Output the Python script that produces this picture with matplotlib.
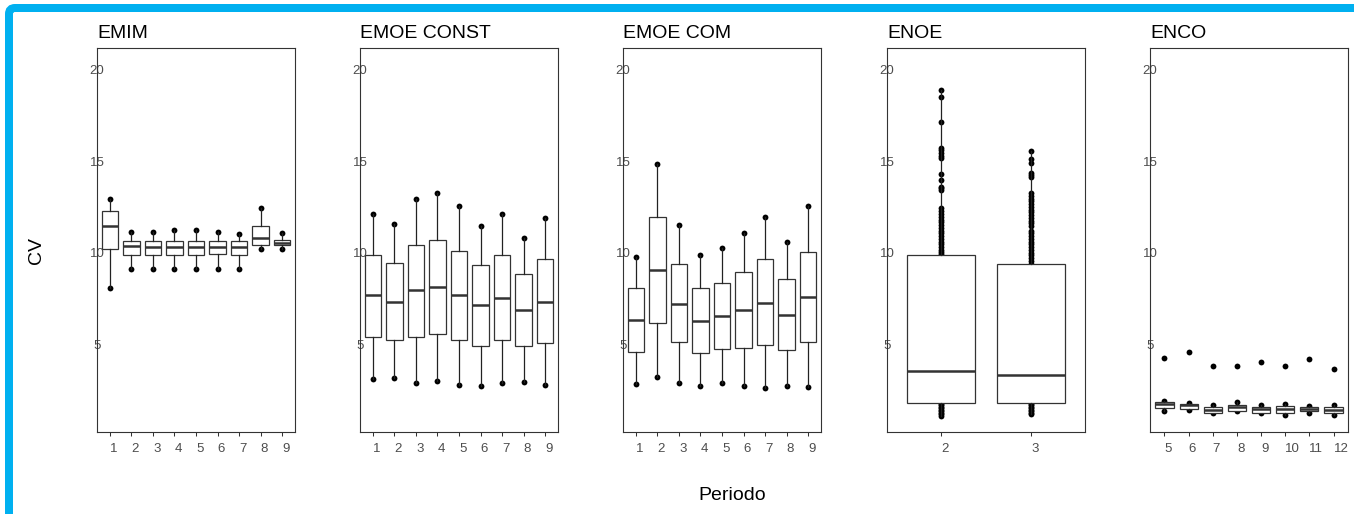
import matplotlib
matplotlib.use('Agg')
import matplotlib.pyplot as plt
from matplotlib.patches import FancyBboxPatch
from matplotlib.transforms import IdentityTransform

plt.rcParams['font.family'] = ['Liberation Sans', 'DejaVu Sans']

W, H = 1354, 514

# ---------------- data ----------------
panel_names = ['EMIM', 'EMOE CONST', 'EMOE COM', 'ENOE', 'ENCO']

emim_periods = [1, 2, 3, 4, 5, 6, 7, 8, 9]
emim_q1 = [10.19, 9.90, 9.90, 9.90, 9.90, 9.95, 9.90, 10.43, 10.43]
emim_med = [11.46, 10.36, 10.34, 10.30, 10.30, 10.34, 10.34, 10.83, 10.55]
emim_q3 = [12.26, 10.63, 10.63, 10.63, 10.63, 10.63, 10.63, 11.48, 10.70]
emim_lo = [8.06, 9.12, 9.12, 9.12, 9.12, 9.12, 9.12, 10.19, 10.19]
emim_hi = [12.94, 11.15, 11.15, 11.25, 11.25, 11.15, 11.03, 12.46, 11.10]

const_periods = [1, 2, 3, 4, 5, 6, 7, 8, 9]
const_q1 = [5.43, 5.23, 5.43, 5.57, 5.23, 4.90, 5.23, 4.90, 5.10]
const_med = [7.68, 7.33, 7.94, 8.15, 7.68, 7.16, 7.54, 6.88, 7.33]
const_q3 = [9.90, 9.45, 10.43, 10.70, 10.12, 9.32, 9.85, 8.85, 9.65]
const_lo = [3.12, 3.19, 2.92, 3.00, 2.79, 2.74, 2.92, 2.94, 2.79]
const_hi = [12.14, 11.57, 12.94, 13.28, 12.54, 11.48, 12.14, 10.83, 11.88]

com_periods = [1, 2, 3, 4, 5, 6, 7, 8, 9]
com_q1 = [4.59, 6.17, 5.12, 4.52, 4.75, 4.83, 4.95, 4.70, 5.12]
com_med = [6.35, 9.06, 7.21, 6.28, 6.55, 6.88, 7.28, 6.61, 7.61]
com_q3 = [8.06, 11.94, 9.37, 8.06, 8.37, 8.97, 9.65, 8.57, 10.03]
com_lo = [2.84, 3.24, 2.92, 2.74, 2.92, 2.74, 2.61, 2.74, 2.66]
com_hi = [9.79, 14.85, 11.52, 9.85, 10.25, 11.10, 11.94, 10.57, 12.54]

enoe_periods = [2, 3]
enoe_q1 = [1.81, 1.81]
enoe_med = [3.54, 3.32]
enoe_q3 = [9.90, 9.37]
enoe_lo = [1.12, 1.19]
enoe_hi = [18.88, 15.57]
enoe_points_2 = [1.12, 1.20, 1.28, 1.36, 1.44, 1.52, 1.60, 1.68, 1.76,
                 9.95, 10.05, 10.15, 10.30, 10.45, 10.60, 10.75, 10.90, 11.05,
                 11.20, 11.35, 11.50, 11.65, 11.80, 11.95, 12.10, 12.25, 12.43,
                 13.43, 13.55, 13.61, 13.97, 14.28, 15.17, 15.30, 15.45, 15.60,
                 15.71, 17.12, 18.48, 18.88]
enoe_points_3 = [1.19, 1.27, 1.35, 1.43, 1.51, 1.59, 1.67, 1.75,
                 9.40, 9.55, 9.70, 9.85, 10.00, 10.15, 10.30, 10.45, 10.60,
                 10.75, 10.90, 11.05, 11.18, 11.45, 11.60, 11.75, 11.90, 12.05,
                 12.20, 12.35, 12.50, 12.65, 12.80, 12.95, 13.10, 13.26,
                 14.15, 14.25, 14.37, 14.88, 15.10, 15.57]

enco_periods = [5, 6, 7, 8, 9, 10, 11, 12]
enco_q1 = [1.52, 1.46, 1.28, 1.39, 1.28, 1.28, 1.35, 1.23]
enco_med = [1.74, 1.68, 1.43, 1.57, 1.50, 1.50, 1.50, 1.43]
enco_q3 = [1.88, 1.75, 1.57, 1.68, 1.57, 1.65, 1.61, 1.61]
enco_lo = [1.37, 1.43, 1.25, 1.34, 1.25, 1.16, 1.28, 1.16]
enco_hi = [1.92, 1.78, 1.72, 1.83, 1.68, 1.75, 1.64, 1.72]
enco_out = [4.25, 4.57, 3.84, 3.84, 4.03, 3.84, 4.19, 3.66]

y_ticks = [5, 10, 15, 20]

panels = [
    (emim_periods, emim_q1, emim_med, emim_q3, emim_lo, emim_hi,
     [[lo, hi] for lo, hi in zip(emim_lo, emim_hi)]),
    (const_periods, const_q1, const_med, const_q3, const_lo, const_hi,
     [[lo, hi] for lo, hi in zip(const_lo, const_hi)]),
    (com_periods, com_q1, com_med, com_q3, com_lo, com_hi,
     [[lo, hi] for lo, hi in zip(com_lo, com_hi)]),
    (enoe_periods, enoe_q1, enoe_med, enoe_q3, enoe_lo, enoe_hi,
     [enoe_points_2, enoe_points_3]),
    (enco_periods, enco_q1, enco_med, enco_q3, enco_lo, enco_hi,
     [[lo, hi, o] for lo, hi, o in zip(enco_lo, enco_hi, enco_out)]),
]

# ---------------- figure ----------------
fig = plt.figure(figsize=(W / 100, H / 100), dpi=100)
fig.patch.set_facecolor('white')

lefts = [97, 360, 623, 887, 1150]
ax_w, ax_top, ax_bot = 198, 48, 432
dark = '#333333'
gray = '#4d4d4d'

for name, left, (per, q1, med, q3, lo, hi, pts) in zip(panel_names, lefts, panels):
    ax = fig.add_axes([left / W, (H - ax_bot) / H, ax_w / W, (ax_bot - ax_top) / H])
    stats = []
    for p, a, m, b, l, h in zip(per, q1, med, q3, lo, hi):
        stats.append(dict(q1=a, med=m, q3=b, whislo=l, whishi=h, fliers=[]))
    # points (drawn beneath the boxes)
    for p, vals in zip(per, pts):
        ax.plot([p] * len(vals), vals, 'o', color='black', markersize=4.2,
                markeredgewidth=0, zorder=2)
    ax.bxp(stats, positions=per, widths=0.75, patch_artist=True,
           showcaps=False, showfliers=False,
           boxprops=dict(facecolor='white', edgecolor=dark, linewidth=0.9),
           medianprops=dict(color=dark, linewidth=1.8),
           whiskerprops=dict(color='#222222', linewidth=0.9),
           zorder=3)
    ax.set_xlim(per[0] - 0.6, per[-1] + 0.6)
    ax.set_ylim(0.22, 21.17)
    ax.set_xticks(per)
    ax.set_xticklabels([str(p) for p in per])
    ax.set_yticks(y_ticks)
    ax.set_yticklabels([str(t) for t in y_ticks])
    ax.tick_params(axis='y', length=0, pad=0, labelsize=9.5, labelcolor=gray)
    ax.tick_params(axis='x', length=3, width=0.75, color=dark, pad=5,
                   labelsize=9.5, labelcolor=gray)
    for lab in ax.get_yticklabels():
        lab.set_horizontalalignment('center')
    for lab in ax.get_xticklabels():
        lab.set_horizontalalignment('left')
    for sp in ax.spines.values():
        sp.set_color(dark)
        sp.set_linewidth(0.8)
    ax.set_title(name, loc='left', pad=7, fontsize=14, color='black')

fig.text(37 / W, 1 - 250.5 / H, 'CV', rotation=90, fontsize=14,
         ha='center', va='center')
fig.text(732.5 / W, 1 - 495 / H, 'Periodo', fontsize=14,
         ha='center', va='center')

# blue frame (top and left)
frame = FancyBboxPatch((9, -60), 1420, H - 8 + 60,
                       boxstyle='round,pad=0,rounding_size=6',
                       linewidth=8 * 0.72, edgecolor='#00B0F0', facecolor='none',
                       transform=IdentityTransform())
fig.add_artist(frame)

fig.savefig('out.png', dpi=100)
